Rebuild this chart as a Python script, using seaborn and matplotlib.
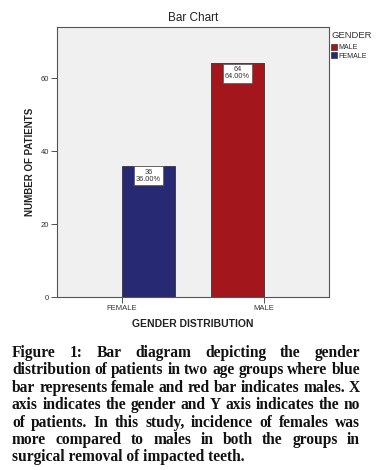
import matplotlib
matplotlib.use("Agg")
import matplotlib.pyplot as plt
import seaborn as sns
import pandas as pd
from matplotlib.patches import Patch

genders = ["FEMALE", "MALE"]
counts = [36, 64]
percents = [36.00, 64.00]
legend_order = ["MALE", "FEMALE"]
colors = {"FEMALE": "#272A73", "MALE": "#A3161C"}

caption_lines = [
    "Figure 1: Bar diagram depicting the gender",
    "distribution of patients in two age groups where blue",
    "bar represents female and red bar indicates males. X",
    "axis indicates the gender and Y axis indicates the no",
    "of patients. In this study, incidence of females was",
    "more compared to males in both the groups in",
    "surgical removal of impacted teeth.",
]

sns.set_theme(style="white")
plt.rcParams['font.family'] = ['Liberation Sans', 'DejaVu Sans']

df = pd.DataFrame({"gender": genders, "count": counts, "pct": percents})

fig = plt.figure(figsize=(3.84, 4.70), dpi=100)
ax = fig.add_axes([56.7/384, 1-297/470, (329-56.7)/384, (297-27)/470])
ax.set_facecolor("#F0F0F0")

sns.barplot(data=df, x="gender", y="count", hue="gender", palette=colors,
            order=genders, width=0.6, edgecolor="#333333", linewidth=0.6,
            saturation=1, legend=False, ax=ax)

ax.set_ylim(0, 74)
ax.set_xlim(-1.03, 2.03)
ax.set_yticks([0, 20, 40, 60])
ax.set_yticklabels(["0", "20", "40", "60"], fontsize=5.5, color="#333333")
ax.set_xticks([-0.3, 1.3])
ax.set_xticklabels(genders, fontsize=5.5, color="#333333")
ax.tick_params(axis="both", length=4, width=0.6, color="#333333", pad=1.5, bottom=True, left=True)
for s in ax.spines.values():
    s.set_color("#555555")
    s.set_linewidth(0.8)

ax.set_xlabel("GENDER DISTRIBUTION", fontsize=7.5, fontweight="bold", color="#222222", labelpad=5)
ax.set_ylabel("NUMBER OF PATIENTS", fontsize=7, fontweight="bold", color="#222222", labelpad=4)
ax.set_title("Bar Chart", fontsize=8.5, color="#222222", pad=4)

for i, (c, p) in enumerate(zip(counts, percents)):
    ax.text(i, c - 0.8, f"{c}\n{p:.2f}%", ha="center", va="top", fontsize=5.3,
            color="#333333", linespacing=1.0,
            bbox=dict(boxstyle="square,pad=0.3", fc="white", ec="#555555", lw=0.5))

handles = [Patch(facecolor=colors[g], edgecolor="#333333", linewidth=0.5, label=g) for g in legend_order]
leg = fig.legend(handles=handles, loc="upper left", bbox_to_anchor=(331/384, 1-44/470),
                 frameon=False, fontsize=5, handlelength=0.9, handleheight=0.9,
                 handletextpad=0.1, labelspacing=0.15, borderpad=0, borderaxespad=0)
fig.text(332/384, 1-36/470, "GENDER", fontsize=6.8, color="#333333", va="center", ha="left")

# Justified caption
cap_font = dict(family=["Liberation Serif", "DejaVu Serif"], fontsize=11.2, fontweight="bold", color="#111111")
x0, x1 = 12, 360
y_start = 357
line_h = 17.4
fig.canvas.draw()
renderer = fig.canvas.get_renderer()
for li, line in enumerate(caption_lines):
    y = 1 - (y_start + li * line_h) / 470
    words = line.split(" ")
    if li == len(caption_lines) - 1:
        fig.text(x0/384, y, line, va="baseline", ha="left", **cap_font)
        continue
    texts = []
    widths = []
    for w in words:
        t = fig.text(0, y, w, va="baseline", ha="left", **cap_font)
        bb = t.get_window_extent(renderer=renderer)
        texts.append(t)
        widths.append(bb.width)
    gap = (x1 - x0 - sum(widths)) / (len(words) - 1)
    x = x0
    for t, wd in zip(texts, widths):
        t.set_x(x / 384)
        x += wd + gap

fig.savefig("out.png", dpi=100, facecolor="white")
